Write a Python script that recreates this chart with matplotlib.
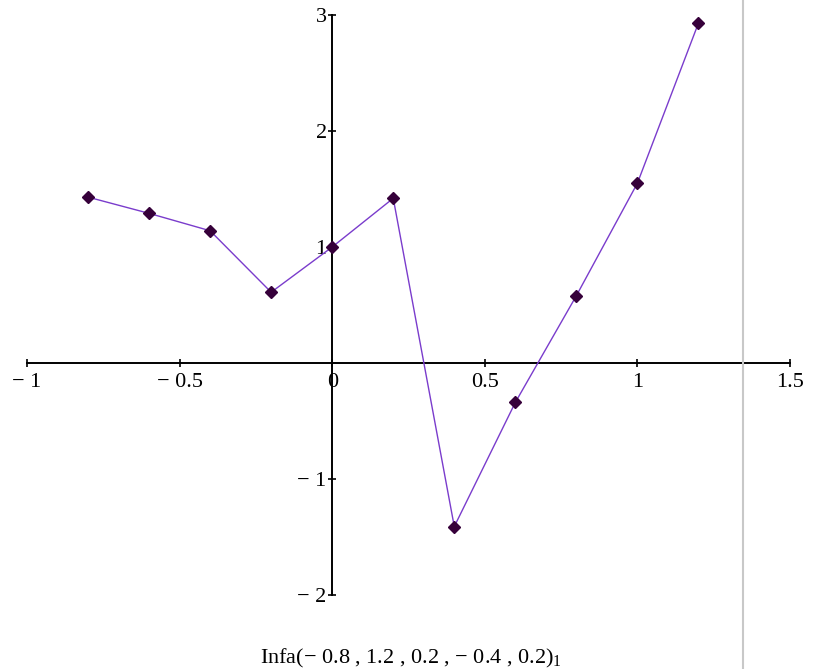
import matplotlib
matplotlib.use("Agg")
import matplotlib.pyplot as plt
from matplotlib.lines import Line2D
from matplotlib.ticker import FixedLocator, FuncFormatter

plt.rcParams['font.family'] = ['Liberation Serif', 'DejaVu Serif']
plt.rcParams['mathtext.fontset'] = 'custom'
plt.rcParams['mathtext.rm'] = 'Liberation Serif'
plt.rcParams['mathtext.it'] = 'Liberation Serif:italic'

# data
x_vals = [-0.8, -0.6, -0.4, -0.2, 0.0, 0.2, 0.4, 0.6, 0.8, 1.0, 1.2]
y_vals = [1.43, 1.29, 1.14, 0.61, 1.00, 1.42, -1.41, -0.34, 0.58, 1.55, 2.93]

x_ticks = [-1, -0.5, 0, 0.5, 1, 1.5]
y_ticks = [-2, -1, 1, 2, 3]
x_label = "Infa(\u2212 0.8 , 1.2 , 0.2 , \u2212 0.4 , 0.2)$_1$"


def fmt(v, pos):
    s = ('%g' % abs(v))
    return ('\u2212 ' + s) if v < 0 else s


W, H = 813, 669
fig = plt.figure(figsize=(W / 100, H / 100), dpi=100)
ax = fig.add_axes([27 / W, 1 - 595 / H, 763 / W, 580 / H])

ax.plot(x_vals, y_vals, color='#7a3ccc', lw=1.0, zorder=3, clip_on=False)
ax.plot(x_vals, y_vals, ls='none', marker='D', ms=6, color='#36003a',
        zorder=4, clip_on=False)

ax.set_xlim(-1, 1.5)
ax.set_ylim(-2, 3)

for side in ('top', 'right'):
    ax.spines[side].set_visible(False)
ax.spines['left'].set_position(('data', 0))
ax.spines['bottom'].set_position(('data', 0))
for side in ('left', 'bottom'):
    ax.spines[side].set_linewidth(1.4)
    ax.spines[side].set_color('black')

ax.xaxis.set_major_locator(FixedLocator(x_ticks))
ax.yaxis.set_major_locator(FixedLocator(y_ticks))
ax.xaxis.set_major_formatter(FuncFormatter(fmt))
ax.yaxis.set_major_formatter(FuncFormatter(fmt))
ax.tick_params(axis='both', direction='inout', length=6, width=1.2,
               labelsize=16, colors='black')
ax.tick_params(axis='x', pad=4)
ax.tick_params(axis='y', pad=1)

ax.patch.set_visible(False)

fig.text(411 / W, 1 - 658 / H, x_label, ha='center', va='center', fontsize=16)

# grey page boundary line
fig.add_artist(Line2D([743 / W, 743 / W], [0, 1], color='#c8c8c8', lw=1.5,
                      transform=fig.transFigure))

fig.savefig('out.png', dpi=100)
